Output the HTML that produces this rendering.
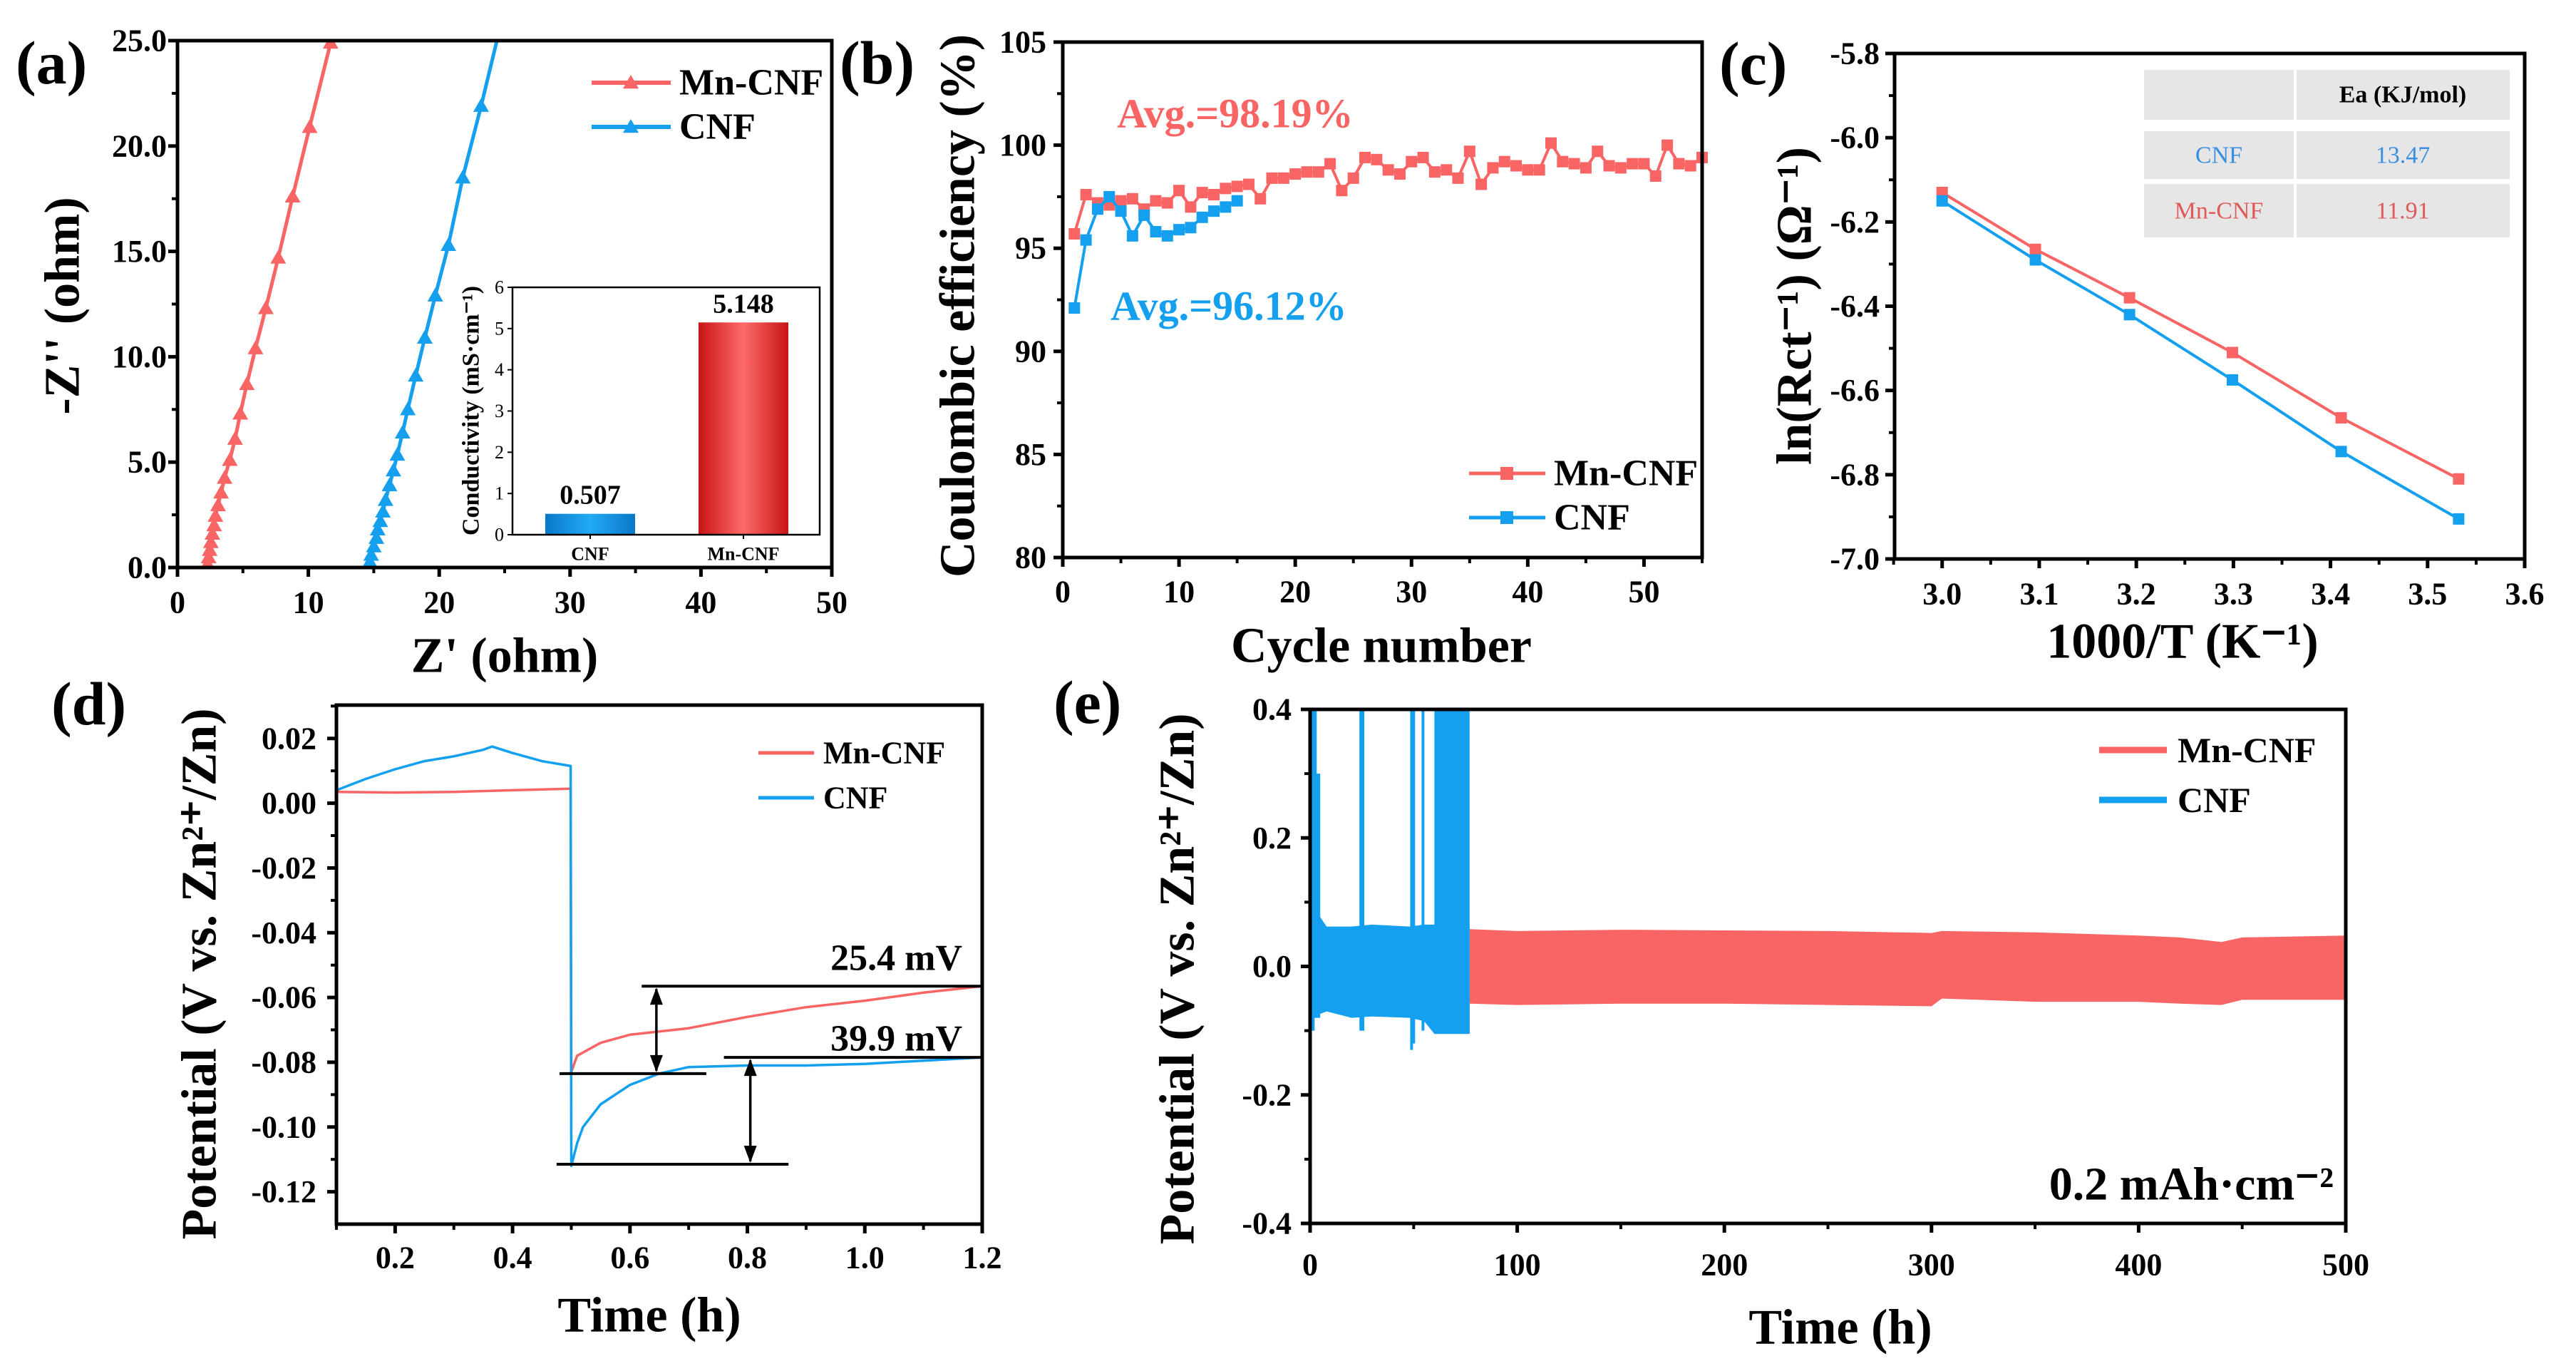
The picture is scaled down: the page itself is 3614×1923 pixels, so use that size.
<!DOCTYPE html>
<html><head><meta charset="utf-8"><style>
html,body{margin:0;padding:0;background:#fff;}
svg{display:block;font-family:"Liberation Serif",serif;font-weight:bold;}
</style></head><body>
<svg id="fig" width="3614" height="1923" viewBox="0 0 3614 1923" xmlns="http://www.w3.org/2000/svg">
<defs>
<linearGradient id="gBlue" x1="0" x2="1" y1="0" y2="0"><stop offset="0" stop-color="#0a78c8"/><stop offset="0.5" stop-color="#22aaf5"/><stop offset="1" stop-color="#0a78c8"/></linearGradient>
<linearGradient id="gRed" x1="0" x2="1" y1="0" y2="0"><stop offset="0" stop-color="#c81414"/><stop offset="0.5" stop-color="#ff6a6a"/><stop offset="1" stop-color="#c81414"/></linearGradient>
</defs>
</svg>
<script>
// ---------- data ----------
// (a) Nyquist
const aMnX=[2.3,2.38,2.46,2.55,2.67,2.8,2.9,3.1,3.33,3.6,4.0,4.4,4.8,5.3,5.96,6.75,7.7,8.8,10.1,11.7,12.2];
const aMnY=[0.17,0.48,0.83,1.2,1.6,2.0,2.45,2.95,3.55,4.25,5.1,6.1,7.3,8.7,10.4,12.3,14.7,17.6,20.9,24.9,26.5];
const aCnX=[14.7,14.8,15.0,15.2,15.3,15.5,15.7,15.9,16.2,16.5,16.8,17.2,17.6,18.2,18.9,19.7,20.7,21.8,23.2,24.6];
const aCnY=[0.27,0.6,1.0,1.4,1.8,2.2,2.65,3.2,3.9,4.6,5.35,6.4,7.5,9.1,10.9,12.9,15.3,18.5,21.9,25.5];
const aXTicks=[0,10,20,30,40,50];
const aYTicks=[0,5,10,15,20,25];
const aYLabels=["0.0","5.0","10.0","15.0","20.0","25.0"];
const insetCats=["CNF","Mn-CNF"];
const insetVals=[0.507,5.148];
const insetValLabels=["0.507","5.148"];
const insetYTicks=[0,1,2,3,4,5,6];
// (b) Coulombic efficiency
const bMn=[95.7,97.6,97.2,97.1,97.3,97.4,96.9,97.3,97.2,97.8,97.0,97.7,97.6,97.9,98.0,98.1,97.4,98.4,98.4,98.6,98.7,98.7,99.1,97.8,98.4,99.4,99.3,98.8,98.6,99.2,99.4,98.7,98.8,98.4,99.7,98.1,98.9,99.2,99.0,98.8,98.8,100.1,99.2,99.1,98.9,99.7,99.0,98.9,99.1,99.1,98.5,100.0,99.1,99.0,99.4];
const bCn=[92.1,95.4,96.9,97.5,96.8,95.6,96.6,95.8,95.6,95.9,96.0,96.5,96.8,97.0,97.3];
const bXTicks=[0,10,20,30,40,50];
const bYTicks=[80,85,90,95,100,105];
// (c) Arrhenius
const cX=[3.0,3.096,3.193,3.299,3.411,3.532];
const cMn=[-6.13,-6.265,-6.38,-6.51,-6.665,-6.81];
const cCn=[-6.15,-6.29,-6.42,-6.575,-6.745,-6.905];
const cXTicks=[3.0,3.1,3.2,3.3,3.4,3.5,3.6];
const cYTicks=[-5.8,-6.0,-6.2,-6.4,-6.6,-6.8,-7.0];
// (d) voltage profile
const dCnT=[0.1,0.15,0.2,0.25,0.3,0.35,0.365,0.4,0.45,0.499,0.5,0.51,0.52,0.55,0.6,0.65,0.7,0.8,0.9,1.0,1.1,1.2];
const dCnV=[0.004,0.0075,0.0105,0.013,0.0145,0.0165,0.0175,0.0155,0.013,0.0115,-0.112,-0.105,-0.1,-0.093,-0.087,-0.0835,-0.0815,-0.081,-0.081,-0.0805,-0.0795,-0.0785];
const dMnT=[0.1,0.2,0.3,0.4,0.499,0.5,0.51,0.55,0.6,0.7,0.8,0.9,1.0,1.1,1.2];
const dMnV=[0.0035,0.0033,0.0035,0.004,0.0045,-0.083,-0.078,-0.074,-0.0715,-0.0695,-0.066,-0.063,-0.061,-0.0585,-0.0565];
const dXTicks=[0.2,0.4,0.6,0.8,1.0,1.2];
const dYTicks=[0.02,0,-0.02,-0.04,-0.06,-0.08,-0.10,-0.12];
const dYLabels=["0.02","0.00","-0.02","-0.04","-0.06","-0.08","-0.10","-0.12"];
// (e) long-term cycling
const eMnT=[77,100,150,200,250,300,305,350,400,420,440,450,500];
const eMnUp=[0.058,0.055,0.057,0.056,0.055,0.052,0.055,0.053,0.048,0.045,0.038,0.045,0.048];
const eMnLo=[-0.058,-0.06,-0.058,-0.058,-0.06,-0.062,-0.05,-0.055,-0.055,-0.058,-0.06,-0.052,-0.052];
const eCnT=[0,8,20,30,48,55,60,77];
const eCnUp=[0.1,0.062,0.062,0.065,0.062,0.065,0.065,0.065];
const eCnLo=[-0.08,-0.07,-0.08,-0.078,-0.08,-0.085,-0.105,-0.105];
const eSpikeT=[0.5,1.5,2.5,3.5,4.2,24.5,25.5,49,50,54.5];
const eSpikeTop=[0.4,0.4,0.4,0.3,0.3,0.4,0.4,0.4,0.4,0.4];
const eSpikeBot=[-0.1,-0.1,-0.08,-0.08,-0.08,-0.1,-0.1,-0.13,-0.12,-0.1];
const eBlockT=[60,77];
const eXTicks=[0,100,200,300,400,500];
const eYTicks=[0.4,0.2,0,-0.2,-0.4];
const eYLabels=["0.4","0.2","0.0","-0.2","-0.4"];

// ---------- helpers ----------
const RED="#f96464", BLUE="#14a0ee";
const svg=document.getElementById('fig');
const NS="http://www.w3.org/2000/svg";
function mk(tag,attrs,parent,name){
  const e=document.createElementNS(NS,tag);
  for(const k in attrs) e.setAttribute(k,attrs[k]);
  
  
  (parent||svg).appendChild(e);
  return e;
}
function txt(s,x,y,size,parent,name,opts){
  opts=opts||{};
  const t=mk('text',{x:x,y:y,'font-size':size,'text-anchor':opts.anchor||'middle','dominant-baseline':'central',fill:opts.fill||'#000'},parent,name);
  if(opts.rot) t.setAttribute('transform','rotate(-90 '+x+' '+y+')');
  if(opts.weight) t.setAttribute('font-weight',opts.weight);
  t.textContent=s;
  return t;
}
function scale(d0,d1,r0,r1){return v=>r0+(v-d0)/(d1-d0)*(r1-r0);}
function frame(g,box,name){
  mk('rect',{x:box.l,y:box.t,width:box.r-box.l,height:box.b-box.t,fill:'none',stroke:'#000','stroke-width':5},g,name);
}
function xTicks(g,sx,box,vals,labels,minors,fs,ly,prefix){
  vals.forEach((v,i)=>{
    const x=sx(v);
    mk('line',{x1:x,x2:x,y1:box.b,y2:box.b+13,stroke:'#000','stroke-width':5},g,prefix+'-x-tick');
    txt(labels[i],x,ly,fs,g,prefix+'-x-tick-label');
  });
  minors.forEach(v=>{const x=sx(v);
    mk('line',{x1:x,x2:x,y1:box.b,y2:box.b+8,stroke:'#000','stroke-width':4},g,prefix+'-x-minor-tick');});
}
function yTicks(g,sy,box,vals,labels,minors,fs,lx,prefix){
  vals.forEach((v,i)=>{
    const y=sy(v);
    mk('line',{x1:box.l-13,x2:box.l,y1:y,y2:y,stroke:'#000','stroke-width':5},g,prefix+'-y-tick');
    txt(labels[i],lx,y,fs,g,prefix+'-y-tick-label',{anchor:'end'});
  });
  minors.forEach(v=>{const y=sy(v);
    mk('line',{x1:box.l-8,x2:box.l,y1:y,y2:y,stroke:'#000','stroke-width':4},g,prefix+'-y-minor-tick');});
}
function poly(g,xs,ys,sx,sy,color,w,name){
  const p=xs.map((x,i)=>sx(x).toFixed(1)+','+sy(ys[i]).toFixed(1)).join(' ');
  return mk('polyline',{points:p,fill:'none',stroke:color,'stroke-width':w,'stroke-linejoin':'round'},g,name);
}
function tri(g,x,y,s,color,name){
  mk('polygon',{points:(x)+','+(y-s)+' '+(x-s)+','+(y+s*0.75)+' '+(x+s)+','+(y+s*0.75),fill:color},g,name);
}
function sq(g,x,y,s,color,name){
  mk('rect',{x:x-s,y:y-s,width:2*s,height:2*s,fill:color},g,name);
}
function clip(id,box){
  const c=mk('clipPath',{id:id},svg.querySelector('defs'),id);
  mk('rect',{x:box.l,y:box.t,width:box.r-box.l,height:box.b-box.t},c,id+'-rect');
}
const TF=44, TT=70;

// ---------- panel a ----------
(function(){
  const g=mk('g',{},svg,'panel-a');
  const box={l:249,r:1167,t:57,b:796};
  const sx=scale(0,50,box.l,box.r), sy=scale(0,25,box.b,box.t);
  clip('clip-a',box);
  const pg=mk('g',{'clip-path':'url(#clip-a)'},g,'panel-a-plot');
  poly(pg,aMnX,aMnY,sx,sy,RED,5,'mn-cnf-nyquist-line');
  aMnX.forEach((x,i)=>tri(pg,sx(x),sy(aMnY[i]),11,RED,'mn-cnf-nyquist-point'));
  poly(pg,aCnX,aCnY,sx,sy,BLUE,5,'cnf-nyquist-line');
  aCnX.forEach((x,i)=>tri(pg,sx(x),sy(aCnY[i]),11,BLUE,'cnf-nyquist-point'));
  frame(g,box,'panel-a-frame');
  xTicks(g,sx,box,aXTicks,aXTicks.map(String),[5,15,25,35,45],TF,845,'a');
  yTicks(g,sy,box,aYTicks,aYLabels,[2.5,7.5,12.5,17.5,22.5],TF,234,'a');
  txt('(a)',22,88,86,g,'panel-a-label',{anchor:'start'});
  txt("-Z'' (ohm)",88,429,TT,g,'a-y-axis-title',{rot:1});
  txt("Z' (ohm)",708,920,TT,g,'a-x-axis-title');
  // legend
  [[RED,'Mn-CNF',116],[BLUE,'CNF',178]].forEach(l=>{
    mk('line',{x1:830,x2:941,y1:l[2],y2:l[2],stroke:l[0],'stroke-width':6},g,'a-legend-line');
    tri(g,885,l[2],11,l[0],'a-legend-marker');
    txt(l[1],953,l[2],52,g,'a-legend-entry',{anchor:'start'});
  });
  // inset
  const ib={l:719,r:1150,t:403,b:750};
  const isy=scale(0,6,ib.b,ib.t);
  const cx=[828,1043], bw=126;
  insetVals.forEach((v,i)=>{
    mk('rect',{x:cx[i]-bw/2,y:isy(v),width:bw,height:ib.b-isy(v),fill:i?'url(#gRed)':'url(#gBlue)'},g,'inset-bar-'+insetCats[i].toLowerCase());
    txt(insetValLabels[i],cx[i],isy(v)-26,38,g,'inset-bar-value');
    txt(insetCats[i],cx[i],777,26,g,'inset-x-label');
    mk('line',{x1:cx[i],x2:cx[i],y1:ib.b,y2:ib.b+6,stroke:'#000','stroke-width':2},g,'inset-x-tick');
  });
  mk('rect',{x:ib.l,y:ib.t,width:ib.r-ib.l,height:ib.b-ib.t,fill:'none',stroke:'#000','stroke-width':2.5},g,'inset-frame');
  insetYTicks.forEach(v=>{
    mk('line',{x1:ib.l-7,x2:ib.l,y1:isy(v),y2:isy(v),stroke:'#000','stroke-width':2},g,'inset-y-tick');
    txt(String(v),ib.l-12,isy(v),26,g,'inset-y-tick-label',{anchor:'end',weight:'normal'});
  });
  txt('Conductivity (mS·cm⁻¹)',661,576,34,g,'inset-y-axis-title',{rot:1});
})();

// ---------- panel b ----------
(function(){
  const g=mk('g',{},svg,'panel-b');
  const box={l:1491,r:2388,t:59,b:782};
  const sx=scale(0,55,box.l,box.r), sy=scale(80,105,box.b,box.t);
  const cyc=bMn.map((_,i)=>i+1), cyc2=bCn.map((_,i)=>i+1);
  poly(g,cyc,bMn,sx,sy,RED,4,'mn-cnf-ce-line');
  cyc.forEach((c,i)=>sq(g,sx(c),sy(bMn[i]),8,RED,'mn-cnf-ce-point'));
  poly(g,cyc2,bCn,sx,sy,BLUE,4,'cnf-ce-line');
  cyc2.forEach((c,i)=>sq(g,sx(c),sy(bCn[i]),8,BLUE,'cnf-ce-point'));
  frame(g,box,'panel-b-frame');
  xTicks(g,sx,box,bXTicks,bXTicks.map(String),[5,15,25,35,45,55],TF,830,'b');
  yTicks(g,sy,box,bYTicks,bYTicks.map(String),[82.5,87.5,92.5,97.5,102.5],TF,1468,'b');
  txt('(b)',1178,88,86,g,'panel-b-label',{anchor:'start'});
  txt('Coulombic efficiency (%)',1344,429,TT,g,'b-y-axis-title',{rot:1});
  txt('Cycle number',1938,906,TT,g,'b-x-axis-title');
  txt('Avg.=98.19%',1567,159,58,g,'mn-cnf-average',{anchor:'start',fill:RED});
  txt('Avg.=96.12%',1558,429,58,g,'cnf-average',{anchor:'start',fill:BLUE});
  [[RED,'Mn-CNF',664],[BLUE,'CNF',726]].forEach(l=>{
    mk('line',{x1:2061,x2:2168,y1:l[2],y2:l[2],stroke:l[0],'stroke-width':5},g,'b-legend-line');
    sq(g,2114,l[2],9,l[0],'b-legend-marker');
    txt(l[1],2180,l[2],52,g,'b-legend-entry',{anchor:'start'});
  });
})();

// ---------- panel c ----------
(function(){
  const g=mk('g',{},svg,'panel-c');
  const box={l:2658,r:3542,t:75,b:784};
  const sx=scale(2.951,3.6,box.l,box.r), sy=scale(-7.0,-5.8,box.b,box.t);
  const rows=[[98,168],[184,251],[258,333]];
  rows.forEach((r,i)=>{
    mk('rect',{x:3008,y:r[0],width:210,height:r[1]-r[0],fill:'#e6e6e6'},g,'ea-table-cell');
    mk('rect',{x:3222,y:r[0],width:299,height:r[1]-r[0],fill:'#e6e6e6'},g,'ea-table-cell');
  });
  txt('Ea (KJ/mol)',3371,133,34,g,'ea-table-header');
  txt('CNF',3113,218,34,g,'ea-table-cnf',{fill:'#3a8fe0',weight:'normal'});
  txt('13.47',3371,218,34,g,'ea-table-cnf-value',{fill:'#3a8fe0',weight:'normal'});
  txt('Mn-CNF',3113,296,34,g,'ea-table-mn-cnf',{fill:'#e05a5a',weight:'normal'});
  txt('11.91',3371,296,34,g,'ea-table-mn-cnf-value',{fill:'#e05a5a',weight:'normal'});
  poly(g,cX,cMn,sx,sy,RED,4,'mn-cnf-arrhenius-line');
  cX.forEach((x,i)=>sq(g,sx(x),sy(cMn[i]),8,RED,'mn-cnf-arrhenius-point'));
  poly(g,cX,cCn,sx,sy,BLUE,4,'cnf-arrhenius-line');
  cX.forEach((x,i)=>sq(g,sx(x),sy(cCn[i]),8,BLUE,'cnf-arrhenius-point'));
  frame(g,box,'panel-c-frame');
  xTicks(g,sx,box,cXTicks,cXTicks.map(v=>v.toFixed(1)),[2.95,3.05,3.15,3.25,3.35,3.45,3.55],TF,833,'c');
  yTicks(g,sy,box,cYTicks,cYTicks.map(v=>v.toFixed(1)),[-5.9,-6.1,-6.3,-6.5,-6.7,-6.9],TF,2637,'c');
  txt('(c)',2412,89,86,g,'panel-c-label',{anchor:'start'});
  txt('ln(Rct⁻¹) (Ω⁻¹)',2518,429,TT,g,'c-y-axis-title',{rot:1});
  txt('1000/T (K⁻¹)',3062,900,TT,g,'c-x-axis-title');
})();

// ---------- panel d ----------
(function(){
  const g=mk('g',{},svg,'panel-d');
  const box={l:472,r:1378,t:989,b:1717};
  const sx=scale(0.1,1.2,box.l,box.r), sy=scale(-0.13,0.0303,box.b,box.t);
  poly(g,dMnT,dMnV,sx,sy,RED,3.5,'mn-cnf-voltage-line');
  poly(g,dCnT,dCnV,sx,sy,BLUE,3.5,'cnf-voltage-line');
  const hl=[[0.62,1.2,-0.0565],[0.48,0.73,-0.0835],[0.76,1.2,-0.0785],[0.475,0.87,-0.1115]];
  hl.forEach(h=>mk('line',{x1:sx(h[0]),x2:sx(h[1]),y1:sy(h[2]),y2:sy(h[2]),stroke:'#000','stroke-width':4},g,'overpotential-guide-line'));
  [[0.645,-0.0565,-0.0835],[0.805,-0.0785,-0.1115]].forEach(a=>{
    const x=sx(a[0]),y1=sy(a[1]),y2=sy(a[2]);
    mk('line',{x1:x,x2:x,y1:y1+4,y2:y2-4,stroke:'#000','stroke-width':3.5},g,'overpotential-arrow');
    mk('polygon',{points:x+','+(y1+2)+' '+(x-9)+','+(y1+26)+' '+(x+9)+','+(y1+26),fill:'#000'},g,'arrow-head');
    mk('polygon',{points:x+','+(y2-2)+' '+(x-9)+','+(y2-26)+' '+(x+9)+','+(y2-26),fill:'#000'},g,'arrow-head');
  });
  txt('25.4 mV',1350,1344,52,g,'mn-cnf-overpotential-label',{anchor:'end'});
  txt('39.9 mV',1350,1457,52,g,'cnf-overpotential-label',{anchor:'end'});
  frame(g,box,'panel-d-frame');
  xTicks(g,sx,box,dXTicks,dXTicks.map(v=>v.toFixed(1)),[0.1,0.3,0.5,0.7,0.9,1.1],TF,1764,'d');
  yTicks(g,sy,box,dYTicks,dYLabels,[0.03,0.01,-0.01,-0.03,-0.05,-0.07,-0.09,-0.11],TF,444,'d');
  txt('(d)',72,987,86,g,'panel-d-label',{anchor:'start'});
  txt('Potential (V vs. Zn²⁺/Zn)',280,1366,TT,g,'d-y-axis-title',{rot:1});
  txt('Time (h)',911,1845,TT,g,'d-x-axis-title');
  [[RED,'Mn-CNF',1056],[BLUE,'CNF',1119]].forEach(l=>{
    mk('line',{x1:1064,x2:1142,y1:l[2],y2:l[2],stroke:l[0],'stroke-width':5},g,'d-legend-line');
    txt(l[1],1155,l[2],44,g,'d-legend-entry',{anchor:'start'});
  });
})();

// ---------- panel e ----------
(function(){
  const g=mk('g',{},svg,'panel-e');
  const box={l:1838,r:3291,t:995,b:1716};
  const sx=scale(0,500,box.l,box.r), sy=scale(-0.4,0.4,box.b,box.t);
  function band(ts,up,lo,color,name){
    const pts=ts.map((t,i)=>sx(t).toFixed(1)+','+sy(up[i]).toFixed(1)).concat(ts.slice().reverse().map((t,i)=>sx(t).toFixed(1)+','+sy(lo[ts.length-1-i]).toFixed(1)));
    mk('polygon',{points:pts.join(' '),fill:color},g,name);
  }
  band(eMnT,eMnUp,eMnLo,RED,'mn-cnf-cycling-band');
  band(eCnT,eCnUp,eCnLo,BLUE,'cnf-cycling-band');
  eSpikeT.forEach((t,i)=>mk('line',{x1:sx(t),x2:sx(t),y1:sy(eSpikeTop[i]),y2:sy(eSpikeBot[i]),stroke:BLUE,'stroke-width':4},g,'cnf-voltage-spike'));
  mk('rect',{x:sx(eBlockT[0]),y:box.t,width:sx(eBlockT[1])-sx(eBlockT[0]),height:sy(-0.105)-box.t,fill:BLUE},g,'cnf-short-circuit-region');
  frame(g,box,'panel-e-frame');
  xTicks(g,sx,box,eXTicks,eXTicks.map(String),[50,150,250,350,450],TF,1774,'e');
  yTicks(g,sy,box,eYTicks,eYLabels,[0.3,0.1,-0.1,-0.3],TF,1812,'e');
  txt('(e)',1478,985,86,g,'panel-e-label',{anchor:'start'});
  txt('Potential (V vs. Zn²⁺/Zn)',1652,1373,TT,g,'e-y-axis-title',{rot:1});
  txt('Time (h)',2582,1862,TT,g,'e-x-axis-title');
  txt('0.2 mAh·cm⁻²',3274,1661,66,g,'areal-capacity-label',{anchor:'end'});
  [[RED,'Mn-CNF',1052],[BLUE,'CNF',1122]].forEach(l=>{
    mk('line',{x1:2945,x2:3040,y1:l[2],y2:l[2],stroke:l[0],'stroke-width':9},g,'e-legend-line');
    txt(l[1],3055,l[2],50,g,'e-legend-entry',{anchor:'start'});
  });
})();
</script>
</body></html>
